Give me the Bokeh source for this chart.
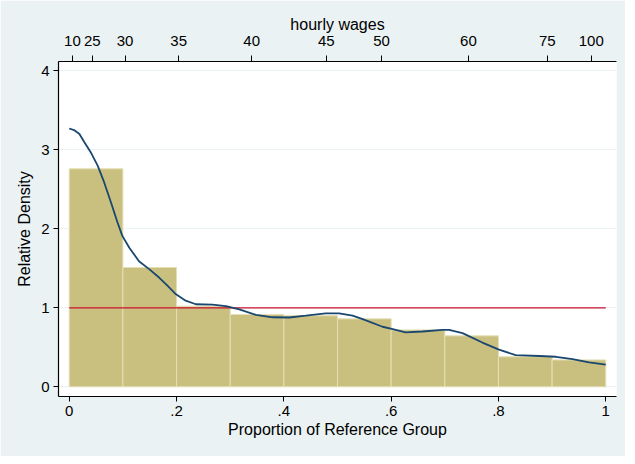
from bokeh.plotting import figure
from bokeh.models import LinearAxis, FixedTicker, Range1d
from bokeh.embed import file_html
from bokeh.resources import INLINE

# histogram of relative data (bins of width .1)
bin_left = [0.0, 0.1, 0.2, 0.3, 0.4, 0.5, 0.6, 0.7, 0.8, 0.9]
bin_right = [0.1, 0.2, 0.3, 0.4, 0.5, 0.6, 0.7, 0.8, 0.9, 1.0]
bin_height = [2.76, 1.51, 1.02, 0.915, 0.90, 0.86, 0.72, 0.645, 0.38, 0.34]

# smoothed relative density
dens_x = [0, 0.009, 0.019, 0.028, 0.040, 0.053, 0.065, 0.078, 0.090, 0.099,
          0.112, 0.130, 0.149, 0.168, 0.183, 0.199, 0.217, 0.236, 0.267, 0.292,
          0.317, 0.348, 0.379, 0.41, 0.441, 0.478, 0.503, 0.528, 0.547, 0.584,
          0.603, 0.627, 0.658, 0.696, 0.708, 0.733, 0.770, 0.801, 0.832, 0.876,
          0.907, 0.938, 0.969, 1.0]
dens_y = [3.27, 3.25, 3.20, 3.10, 2.97, 2.80, 2.59, 2.33, 2.08, 1.91,
          1.76, 1.59, 1.49, 1.38, 1.28, 1.17, 1.09, 1.045, 1.04, 1.02,
          0.98, 0.91, 0.88, 0.877, 0.90, 0.93, 0.93, 0.90, 0.856, 0.76,
          0.73, 0.69, 0.70, 0.72, 0.72, 0.68, 0.56, 0.47, 0.40, 0.39,
          0.38, 0.35, 0.31, 0.28]

# reference line
ref_x = [0, 1]
ref_y = [1, 1]

# top axis: hourly wages at their reference-group quantiles
wage_labels = ["10", "25", "30", "35", "40", "45", "50", "60", "75", "100"]
wage_pos = [0.006, 0.043, 0.104, 0.204, 0.340, 0.479, 0.582, 0.744, 0.891, 0.973]

x_ticks = [0, 0.2, 0.4, 0.6, 0.8, 1]
x_tick_labels = ["0", ".2", ".4", ".6", ".8", "1"]
y_ticks = [0, 1, 2, 3, 4]

FONT = "Liberation Sans"
BG = "#EAF2F3"
TICK_SIZE = "15px"
TITLE_SIZE = "16px"

p = figure(
    width=625, height=456,
    x_range=Range1d(-0.02, 1.02), y_range=Range1d(-0.123, 4.118),
    output_backend="svg", toolbar_location=None,
    x_axis_label="Proportion of Reference Group",
    y_axis_label="Relative Density",
    min_border_left=58, min_border_right=9,
    min_border_top=61, min_border_bottom=60,
)
p.border_fill_color = BG
p.background_fill_color = "white"
p.outline_line_color = None

p.quad(left=bin_left, right=bin_right, bottom=0, top=bin_height,
       fill_color="#C9C080", line_color="#E4DFB4", line_width=1)
p.line(ref_x, ref_y, color="#C8102E", line_width=1.3)
p.line(dens_x, dens_y, color="#1A476F", line_width=1.8)

p.xgrid.visible = False
p.ygrid.ticker = FixedTicker(ticks=y_ticks)
p.ygrid.grid_line_color = BG
p.ygrid.grid_line_width = 1

bottom = p.below[0]
left = p.left[0]

top = LinearAxis(
    ticker=FixedTicker(ticks=wage_pos),
    axis_label="hourly wages",
    major_label_overrides=dict(zip(wage_pos, wage_labels)),
)
p.add_layout(top, "above")

for ax in [bottom, left, top]:
    ax.axis_line_color = "black"
    ax.axis_line_width = 1.2
    ax.major_tick_line_color = "black"
    ax.major_tick_out = 5
    ax.major_tick_in = 0
    ax.minor_tick_line_color = None
    ax.major_label_text_font = FONT
    ax.major_label_text_font_size = TICK_SIZE
    ax.major_label_text_color = "black"
    ax.axis_label_text_font = FONT
    ax.axis_label_text_font_size = TITLE_SIZE
    ax.axis_label_text_font_style = "normal"
    ax.axis_label_text_color = "black"

bottom.ticker = FixedTicker(ticks=x_ticks)
bottom.major_label_overrides = dict(zip(x_ticks, x_tick_labels))
bottom.major_label_standoff = 4
bottom.axis_label_standoff = 2

left.ticker = FixedTicker(ticks=y_ticks)
left.major_label_orientation = "horizontal"
left.major_label_standoff = 4
left.axis_label_standoff = 5

top.major_tick_out = 6
top.major_label_standoff = 10
top.axis_label_standoff = 0

open("out.html", "w").write(file_html(p, INLINE))
